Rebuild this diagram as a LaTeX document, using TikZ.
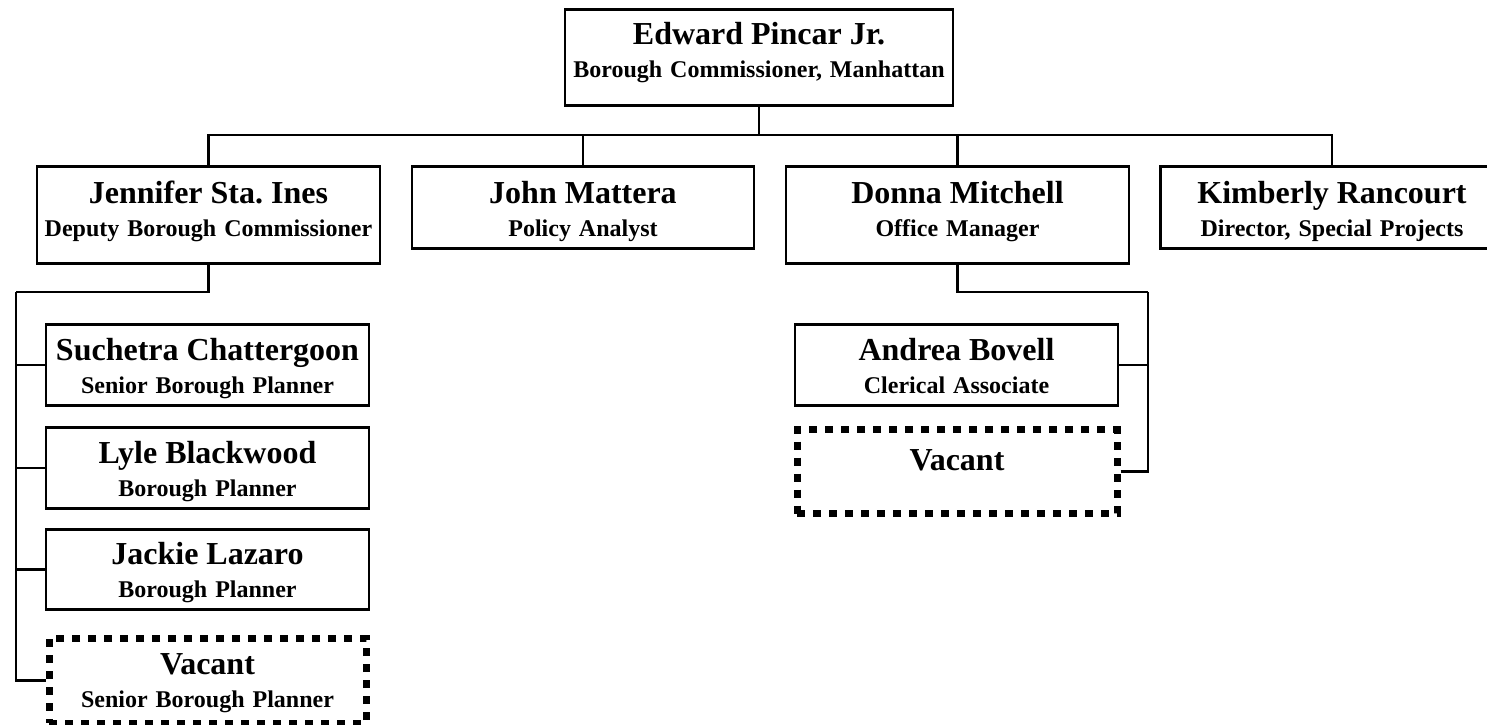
\documentclass[tikz,border=0pt]{standalone}
\usepackage{fontspec}
\setmainfont{Liberation Serif}
\usetikzlibrary{positioning}
\frenchspacing
\newcommand{\namefont}{\fontsize{16}{16.5}\selectfont}
\newcommand{\titlefont}{\bfseries\fontsize{12}{16.5}\selectfont}
\tikzstyle{post}=[draw, line width=1.35pt, inner sep=0pt, anchor=north, align=center, font=\titlefont]
\tikzstyle{vacant}=[post, line width=3.5pt, dash pattern=on 4pt off 4pt]
\tikzstyle{link}=[line width=1.3pt]
\begin{document}
\begin{tikzpicture}[x=0.5pt, y=-0.5pt]
		\useasboundingbox (0,0) rectangle (1487,724);

		\node[post, text width=194pt, text height=17.5pt, text depth=30.5pt] (boss) at (759, 8) {{\namefont Edward Pincar Jr.}\\Borough Commissioner, Manhattan};
		\node[post, text width=171.5pt, text height=18.5pt, text depth=30pt] (deputy) at (208.5, 165) {{\namefont Jennifer Sta. Ines}\\Deputy Borough Commissioner};
		\node[post, text width=171pt, text height=18.5pt, text depth=22.5pt] (analyst) at (583, 165) {{\namefont John Mattera}\\Policy Analyst};
		\node[post, text width=171.5pt, text height=18.5pt, text depth=30pt] (manager) at (957.5, 165) {{\namefont Donna Mitchell}\\Office Manager};
		\node[post, text width=171.5pt, text height=18.5pt, text depth=22.5pt] (director) at (1332, 165) {{\namefont Kimberly Rancourt}\\Director, Special Projects};

		\node[post, text width=161.5pt, text height=18pt, text depth=22.5pt] (senior) at (207.5, 323) {{\namefont Suchetra Chattergoon}\\Senior Borough Planner};
		\node[post, text width=161.5pt, text height=18pt, text depth=22.5pt] (planA) at (207.5, 426) {{\namefont Lyle Blackwood}\\Borough Planner};
		\node[post, text width=161.5pt, text height=17.5pt, text depth=22.5pt] (planB) at (207.5, 528) {{\namefont Jackie Lazaro}\\Borough Planner};
		\node[vacant, text width=158.5pt, text height=18.25pt, text depth=24.25pt] (vacantA) at (207.5, 634.5) {{\namefont Vacant}\\Senior Borough Planner};

		\node[post, text width=161.5pt, text height=18pt, text depth=22.5pt] (clerk) at (956.5, 323) {{\namefont Andrea Bovell}\\Clerical Associate};
		\node[vacant, text width=160pt, text height=20.5pt, text depth=21.5pt] (vacantB) at (957, 426) {\namefont Vacant};

		% bus under the commissioner
		\coordinate (bus) at (759, 135);
		\draw[link] (boss.south) -- (bus);
		\foreach \n in {deputy,analyst,manager,director}
		\draw[link] (bus) -| (\n.north);

		% planners
		\coordinate (dspine) at (16, 292);
		\draw[link] (deputy.south) |- (dspine);
		\foreach \n in {senior,planA,planB,vacantA}
		\draw[link] (\n.west) -| (dspine);

		% office staff
		\coordinate (mspine) at (1148, 292);
		\draw[link] (manager.south) |- (mspine);
		\foreach \n in {clerk,vacantB}
		\draw[link] (\n.east) -| (mspine);

	\end{tikzpicture}
\end{document}
